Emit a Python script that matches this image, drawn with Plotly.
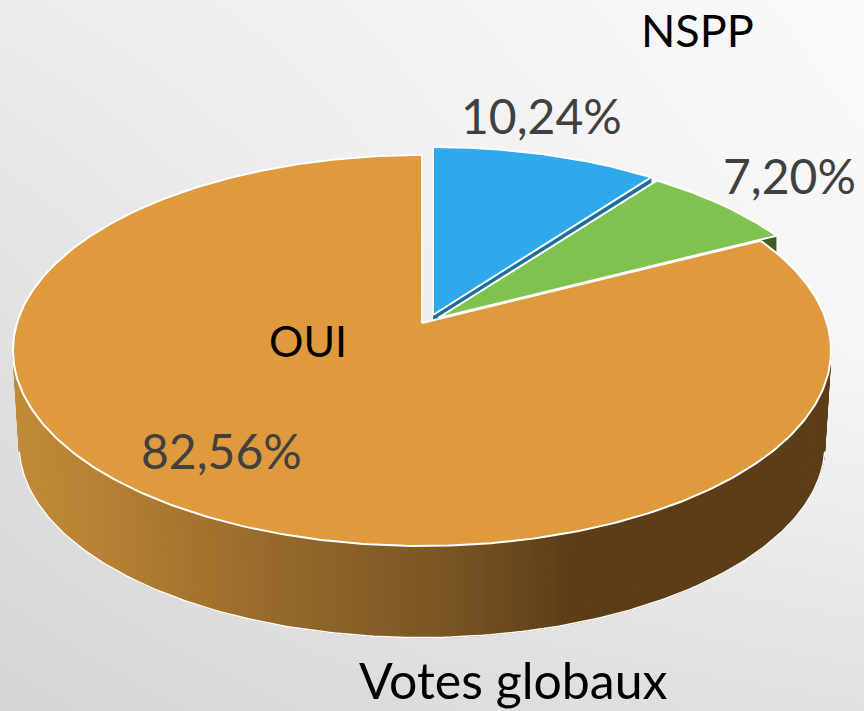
import numpy as np
import plotly.graph_objects as go

# ---- data ----
categories = ["NSPP-blue", "NSPP-green", "OUI"]
values = [10.24, 7.20, 82.56]
top_colors = ["#2EAAEC", "#7FC250", "#DF9A3D"]
side_colors = ["#1F6E9A", "#3B5C22", "#DF9A3D"]
value_labels = ["10,24%", "7,20%", "82,56%"]
label_xy = [(541, 115), (789, 175), (221, 450)]
texts = ["NSPP", "OUI", "Votes globaux"]
text_xy = [(697, 30), (308, 340), (513, 680)]
text_sizes = [45, 43, 50]

bg_x = [0, 432, 864]
bg_y = [0, 355, 711]
bg_gray = [[236, 243, 250],
           [224, 238, 246],
           [213, 221, 225]]

wall_x = [15, 100, 250, 330, 450, 570, 830]
wall_rgb = [(194, 139, 56), (184, 129, 52), (155, 108, 44), (140, 99, 41),
            (121, 84, 34), (91, 61, 24), (91, 61, 24)]

# ---- projection of the tilted disc ----
K, A, B = 0.1406, 405.0, 191.6
DEPTH, SHRINK = 95.0, 0.985
apex = {"NSPP-blue": (433, 315), "NSPP-green": (438, 318), "OUI": (422, 323)}


def rim(theta_deg, origin, bottom=False):
    t = np.radians(theta_deg)
    u, v = np.sin(t), np.cos(t)
    s = SHRINK if bottom else 1.0
    x = origin[0] + s * A * u / (1 + K * v)
    y = origin[1] - s * B * v / (1 + K * v) + (DEPTH if bottom else 0)
    return x, y


fig = go.Figure()

# background
fig.add_trace(go.Heatmap(x=bg_x, y=bg_y, z=bg_gray, zmin=0, zmax=255, zsmooth="best",
                         colorscale=[[0, "rgb(0,0,0)"], [1, "rgb(255,255,255)"]],
                         showscale=False, hoverinfo="skip"))

# outer wall of the large slice, as thin colour strips
oui = apex["OUI"]
edges = np.linspace(100, 260, 193)
for a0, a1 in zip(edges[:-1], edges[1:]):
    tx0, ty0 = rim(a0, oui)
    tx1, ty1 = rim(a1, oui)
    bx0, by0 = rim(a0, oui, True)
    bx1, by1 = rim(a1, oui, True)
    mid = (bx0 + bx1) / 2
    c = [np.interp(mid, wall_x, [w[i] for w in wall_rgb]) for i in range(3)]
    col = f"rgb({c[0]:.0f},{c[1]:.0f},{c[2]:.0f})"
    fig.add_trace(go.Scatter(x=[tx0, tx1, bx1, bx0, tx0], y=[ty0, ty1, by1, by0, ty0],
                             mode="lines", fill="toself", fillcolor=col,
                             line=dict(color=col, width=1), hoverinfo="skip"))

# white outline under the wall
ang = np.linspace(100, 260, 200)
bx, by = rim(ang, oui, True)
fig.add_trace(go.Scatter(x=bx, y=by, mode="lines", line=dict(color="white", width=1.5),
                         hoverinfo="skip"))

# slices: small ones first, the big one on top
starts = np.concatenate(([0], np.cumsum(values)[:-1])) * 3.6
ends = np.cumsum(values) * 3.6
for i, name in enumerate(categories):
    org = apex[name]
    ang = np.linspace(starts[i], ends[i], 400)
    x, y = rim(ang, org)
    if name != "OUI":
        ex, ey = rim(ends[i], org)
        fig.add_trace(go.Scatter(x=[org[0], ex, ex, org[0], org[0]],
                                 y=[org[1], ey, ey + DEPTH, org[1] + DEPTH, org[1]],
                                 mode="lines", fill="toself", fillcolor=side_colors[i],
                                 line=dict(color=side_colors[i], width=0), hoverinfo="skip"))
    fig.add_trace(go.Scatter(x=np.r_[org[0], x, org[0]], y=np.r_[org[1], y, org[1]],
                             mode="lines", fill="toself", fillcolor=top_colors[i],
                             line=dict(color="white", width=2), name=name,
                             hoverinfo="skip"))

anns = []
for t, (x, y) in zip(value_labels, label_xy):
    anns.append(dict(x=x, y=y, text=t, showarrow=False, xanchor="center", yanchor="middle",
                     font=dict(family="Lato", size=48, color="#404040")))
for t, (x, y), s in zip(texts, text_xy, text_sizes):
    anns.append(dict(x=x, y=y, text=t, showarrow=False, xanchor="center", yanchor="middle",
                     font=dict(family="Lato", size=s, color="#000000")))

fig.update_layout(width=864, height=711, margin=dict(l=0, r=0, t=0, b=0), showlegend=False,
                  paper_bgcolor="#eeeeee", plot_bgcolor="#eeeeee", annotations=anns,
                  xaxis=dict(range=[0, 864], visible=False, fixedrange=True),
                  yaxis=dict(range=[711, 0], visible=False, fixedrange=True))
fig.write_html("out.html", config=dict(displayModeBar=False),
               post_script="document.body.style.margin='0';document.body.style.overflow='hidden';")
